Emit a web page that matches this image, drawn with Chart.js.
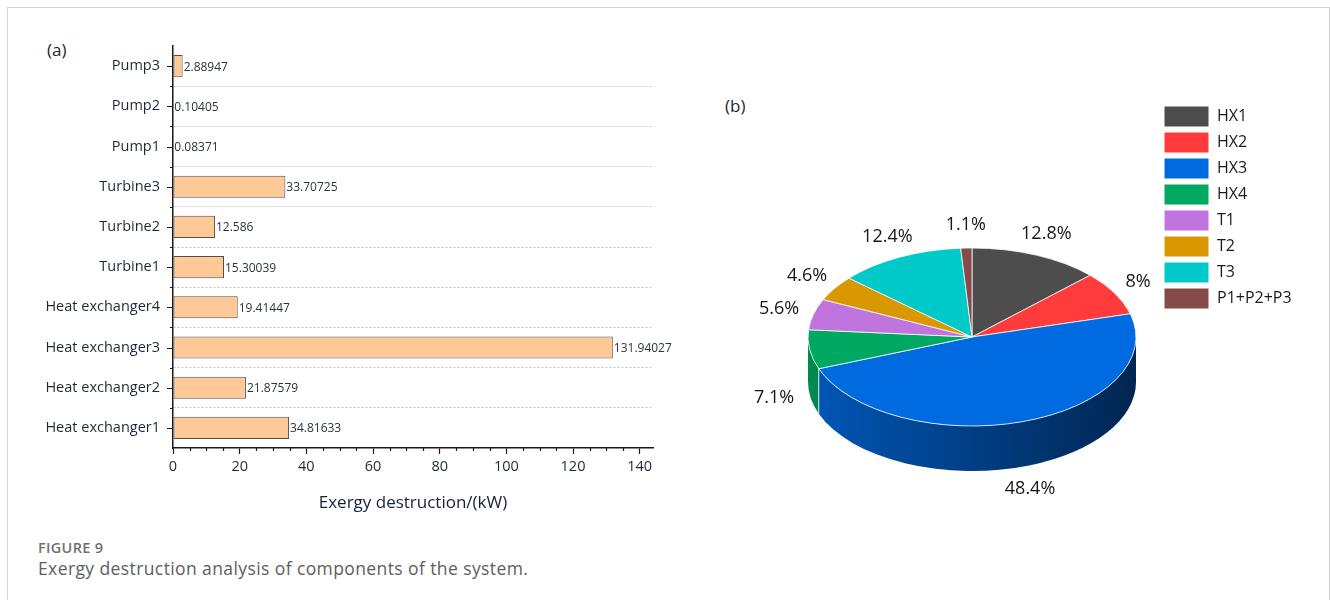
<!DOCTYPE html>
<html>
<head>
<meta charset="utf-8">
<title>Exergy destruction analysis</title>
<script src="https://cdn.jsdelivr.net/npm/chart.js@4.4.1/dist/chart.umd.min.js"></script>
<style>
  html, body { margin: 0; padding: 0; background: #fff; }
  body { width: 1330px; height: 600px; position: relative; overflow: hidden; font-family: 'Open Sans', sans-serif; }
  .frame { position: absolute; left: 7px; top: 7px; width: 1321px; height: 640px; border: 1px solid #d4d4d4; }
  .tag { position: absolute; font-size: 17px; line-height: 22px; color: #1f1f1f; }
  #barChart { position: absolute; left: 0; top: 0; }
  #pieChart { position: absolute; left: 700px; top: 60px; }
  .fig-no { position: absolute; left: 38px; top: 538px; font-size: 14.5px; line-height: 20px; font-weight: 600; color: #707070; letter-spacing: 0.3px; }
  .fig-cap { position: absolute; left: 38px; top: 557px; font-size: 17.5px; line-height: 22px; color: #5e5e5e; letter-spacing: 0.4px; }
</style>
</head>
<body>
<div class="frame"></div>
<div class="tag" style="left:47px; top:39px;">(a)</div>
<div class="tag" style="left:725px; top:95px;">(b)</div>
<canvas id="barChart" width="700" height="530"></canvas>
<canvas id="pieChart" width="630" height="520"></canvas>
<div class="fig-no">FIGURE 9</div>
<div class="fig-cap">Exergy destruction analysis of components of the system.</div>

<script>
// Bar chart data (top to bottom)
const components = ['Pump3', 'Pump2', 'Pump1', 'Turbine3', 'Turbine2', 'Turbine1',
  'Heat exchanger4', 'Heat exchanger3', 'Heat exchanger2', 'Heat exchanger1'];
const exergyKW = [2.88947, 0.10405, 0.08371, 33.70725, 12.586, 15.30039,
  19.41447, 131.94027, 21.87579, 34.81633];
const xTicks = [0, 20, 40, 60, 80, 100, 120, 140];

// Pie chart data
const shareGroups = ['HX1', 'HX2', 'HX3', 'HX4', 'T1', 'T2', 'T3', 'P1+P2+P3'];
const sharePct = [12.8, 8, 48.4, 7.1, 5.6, 4.6, 12.4, 1.1];

const FONT = 'Open Sans';
const INK = '#1d2939';
const AXIS = '#1a1a1a';

// --- (a) horizontal bars ---

// category ticks, minor ticks and the small x minor marks
const axisMarks = {
  id: 'axisMarks',
  afterDraw(chart) {
    const { ctx, scales: { x, y } } = chart;
    ctx.save();
    ctx.strokeStyle = AXIS;
    ctx.lineWidth = 1.2;
    ctx.beginPath();
    y.ticks.forEach((t, i) => {
      const py = Math.round(y.getPixelForTick(i)) + 0.5;
      ctx.moveTo(x.left - 6, py);
      ctx.lineTo(x.left, py);
    });
    for (let i = 0; i < y.ticks.length - 1; i++) {
      const py = Math.round((y.getPixelForTick(i) + y.getPixelForTick(i + 1)) / 2) + 0.5;
      ctx.moveTo(x.left - 3, py);
      ctx.lineTo(x.left, py);
    }
    for (let v = 5; v < x.max; v += 5) {
      if (v % 20 === 0) continue;
      const px = Math.round(x.getPixelForValue(v)) + 0.5;
      ctx.moveTo(px, y.bottom);
      ctx.lineTo(px, y.bottom + 3);
    }
    ctx.stroke();
    ctx.restore();
  }
};

// value printed at the end of each bar
const valueLabels = {
  id: 'valueLabels',
  afterDatasetsDraw(chart) {
    const { ctx } = chart;
    const bars = chart.getDatasetMeta(0).data;
    ctx.save();
    ctx.font = `12px "${FONT}"`;
    ctx.fillStyle = '#2a3342';
    ctx.textBaseline = 'middle';
    ctx.textAlign = 'left';
    bars.forEach((bar, i) => ctx.fillText(String(exergyKW[i]), bar.x + 1, bar.y + 1));
    ctx.restore();
  }
};

new Chart(document.getElementById('barChart'), {
  type: 'bar',
  data: {
    labels: components,
    datasets: [{
      data: exergyKW,
      backgroundColor: '#ffc997',
      borderColor: '#4f4f4f',
      borderWidth: 1,
      borderSkipped: false,
      barPercentage: 0.55,
      categoryPercentage: 1
    }]
  },
  options: {
    indexAxis: 'y',
    responsive: false,
    animation: false,
    layout: { padding: { top: 46, right: 47, bottom: 0, left: 0 } },
    plugins: { legend: { display: false }, tooltip: { enabled: false } },
    scales: {
      x: {
        type: 'linear',
        min: 0,
        max: 144,
        afterBuildTicks: s => { s.ticks = xTicks.map(v => ({ value: v })); },
        afterFit: s => { s.height = 82; },
        grid: { drawOnChartArea: false, drawTicks: true, tickLength: 6, tickColor: AXIS, tickWidth: 1.2 },
        border: { color: AXIS, width: 1.5 },
        ticks: { color: INK, font: { family: FONT, size: 14.5 }, padding: 4, maxRotation: 0 },
        title: {
          display: true,
          text: 'Exergy destruction/(kW)',
          color: '#14213a',
          font: { family: FONT, size: 17 },
          padding: { top: 0, bottom: 17 }
        }
      },
      y: {
        afterFit: s => { s.width = 173; },
        grid: {
          drawTicks: false,
          lineWidth: 1,
          color: c => (c.index === undefined || c.index === 0) ? 'rgba(0,0,0,0)' : '#c6c6c6'
        },
        border: { color: AXIS, width: 1.5, dash: [2, 2] },
        ticks: { color: INK, font: { family: FONT, size: 14.5 }, padding: 13 }
      }
    }
  },
  plugins: [axisMarks, valueLabels]
});

// --- (b) tilted pie ---

const pieColors = ['#4d4d4d', '#ff3b3b', '#006ae0', '#00a862', '#c074de', '#d99800', '#00c9c9', '#854a4a'];
const TILT = 89 / 164;   // vertical squash of the top face
const DEPTH = 45;        // thickness of the side wall
const PIE_RIGHT = 459;   // chart area right edge inside the pie canvas
const LABEL_GAP = 16;

function shade(hex, f) {
  const n = parseInt(hex.slice(1), 16);
  const r = Math.round(((n >> 16) & 255) * f);
  const g = Math.round(((n >> 8) & 255) * f);
  const b = Math.round((n & 255) * f);
  return `rgb(${r},${g},${b})`;
}

const pie3d = {
  id: 'pie3d',
  beforeDatasetsDraw(chart) {
    const { ctx } = chart;
    const arcs = chart.getDatasetMeta(0).data;
    const { x: cx, y: cy, outerRadius: rx } = arcs[0];
    const ry = rx * TILT;

    // side walls, only the front half (0..PI) can be seen
    arcs.forEach((arc, i) => {
      const a1 = Math.max(arc.startAngle, 0);
      const a2 = Math.min(arc.endAngle, Math.PI);
      if (a2 <= a1) return;
      const g = ctx.createLinearGradient(cx - rx, 0, cx + rx, 0);
      g.addColorStop(0, shade(pieColors[i], 0.82));
      g.addColorStop(1, shade(pieColors[i], 0.36));
      ctx.save();
      ctx.beginPath();
      ctx.ellipse(cx, cy, rx, ry, 0, a1, a2);
      ctx.lineTo(cx + rx * Math.cos(a2), cy + ry * Math.sin(a2) + DEPTH);
      ctx.ellipse(cx, cy + DEPTH, rx, ry, 0, a2, a1, true);
      ctx.closePath();
      ctx.fillStyle = g;
      ctx.fill();
      if (a1 === arc.startAngle) {
        const ex = cx + rx * Math.cos(a1), ey = cy + ry * Math.sin(a1);
        ctx.beginPath();
        ctx.moveTo(ex, ey);
        ctx.lineTo(ex, ey + DEPTH);
        ctx.strokeStyle = 'rgba(255,255,255,0.8)';
        ctx.lineWidth = 1;
        ctx.stroke();
      }
      ctx.restore();
    });

    // squash the top face into an ellipse
    ctx.save();
    ctx.translate(cx, cy);
    ctx.scale(1, TILT);
    ctx.translate(-cx, -cy);
  },
  afterDatasetsDraw(chart) {
    const { ctx } = chart;
    ctx.restore();

    // percentage labels just outside each slice
    const arcs = chart.getDatasetMeta(0).data;
    const { x: cx, y: cy, outerRadius: rx } = arcs[0];
    const ry = rx * TILT;
    ctx.save();
    ctx.font = `18px "${FONT}"`;
    ctx.fillStyle = '#161616';
    ctx.textAlign = 'center';
    ctx.textBaseline = 'middle';
    arcs.forEach((arc, i) => {
      const m = (arc.startAngle + arc.endAngle) / 2;
      const c = Math.cos(m), s = Math.sin(m);
      const text = sharePct[i] + '%';
      const w = ctx.measureText(text).width;
      const px = cx + c * (rx + LABEL_GAP) + c * Math.abs(c) * w / 2;
      const py = cy + s * (ry + LABEL_GAP) + (s > 0 ? DEPTH : 0) + s * 7;
      ctx.fillText(text, px, py);
    });
    ctx.restore();
  }
};

const pieChart = new Chart(document.getElementById('pieChart'), {
  type: 'pie',
  data: {
    labels: shareGroups,
    datasets: [{
      data: sharePct,
      backgroundColor: pieColors,
      borderColor: '#ffffff',
      borderWidth: 1,
      radius: 164
    }]
  },
  options: {
    responsive: false,
    animation: false,
    layout: { padding: { top: 41, right: 30, bottom: 7, left: 85 } },
    plugins: {
      tooltip: { enabled: false },
      legend: {
        position: 'right',
        align: 'start',
        labels: {
          boxWidth: 45,
          boxHeight: 21,
          padding: 5,
          color: '#1a1a1a',
          font: { family: FONT, size: 16 }
        }
      }
    }
  },
  plugins: [pie3d]
});

// keep the legend column starting at the same x whatever its measured width
const shift = pieChart.chartArea.right - PIE_RIGHT;
if (Math.abs(shift) > 0.5) {
  pieChart.options.layout.padding.right += shift;
  pieChart.update();
}
</script>
</body>
</html>
